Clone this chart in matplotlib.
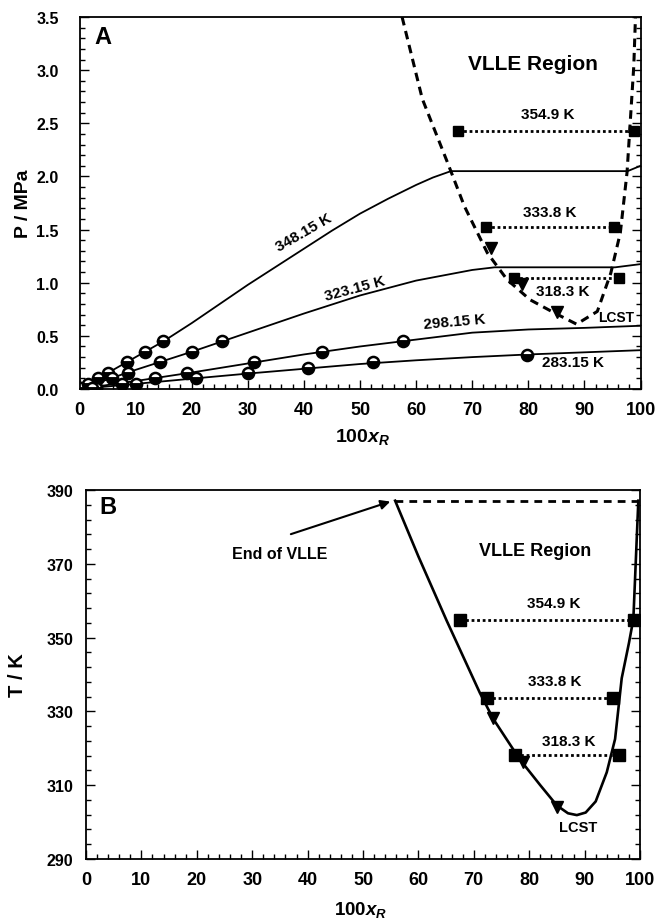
import matplotlib
matplotlib.use("Agg")
import matplotlib.pyplot as plt
from matplotlib.ticker import MultipleLocator

plt.rcParams['font.family'] = ['Liberation Sans', 'DejaVu Sans']
plt.rcParams['font.weight'] = 'bold'
plt.rcParams['mathtext.fontset'] = 'custom'
plt.rcParams['mathtext.it'] = 'Liberation Sans:italic:bold'
plt.rcParams['mathtext.rm'] = 'Liberation Sans:bold'
plt.rcParams['mathtext.bf'] = 'Liberation Sans:bold'

# ---------------- Panel A data ----------------
# model isotherms (P / MPa vs 100x_R)
x_348 = [0, 5, 10, 15, 20, 25, 30, 35, 40, 45, 50, 55, 60, 63, 66.2, 97.7, 100]
p_348 = [0, 0.15, 0.30, 0.45, 0.62, 0.80, 0.98, 1.15, 1.32, 1.49, 1.65, 1.79, 1.92, 1.99, 2.05, 2.05, 2.10]
x_323 = [0, 5, 10, 15, 20, 25, 30, 40, 50, 60, 70, 74, 95.5, 100]
p_323 = [0, 0.09, 0.18, 0.265, 0.35, 0.44, 0.53, 0.71, 0.88, 1.02, 1.12, 1.145, 1.145, 1.175]
x_298 = [0, 10, 20, 30, 40, 50, 60, 70, 80, 90, 100]
p_298 = [0, 0.075, 0.155, 0.24, 0.325, 0.40, 0.465, 0.53, 0.56, 0.575, 0.595]
x_283 = [0, 10, 20, 30, 40, 50, 60, 70, 80, 90, 100]
p_283 = [0, 0.048, 0.097, 0.145, 0.19, 0.235, 0.27, 0.30, 0.325, 0.345, 0.365]

# experimental points
xe_348 = [0.3, 1.5, 3.3, 5.1, 8.4, 11.7, 14.9]
pe_348 = [0.01, 0.05, 0.10, 0.15, 0.25, 0.35, 0.45]
xe_323 = [2.8, 5.8, 8.7, 14.3, 20.0, 25.4]
pe_323 = [0.02, 0.10, 0.15, 0.25, 0.35, 0.45]
xe_298 = [3.0, 7.5, 13.5, 19.2, 31.1, 43.3, 57.7]
pe_298 = [0.01, 0.05, 0.10, 0.15, 0.25, 0.35, 0.45]
xe_283 = [2.3, 10.1, 20.8, 30.0, 40.7, 52.3, 79.8]
pe_283 = [0.01, 0.05, 0.10, 0.15, 0.20, 0.25, 0.32]

# VLLE boundary (dashed) in P-x
x_vlle_A = [57.5, 61.1, 65.6, 68.6, 72.7, 76.2, 80.3, 84.5, 88.6, 92.3, 94.7, 96.4, 97.6, 98.8, 99.1]
p_vlle_A = [3.5, 2.73, 2.13, 1.72, 1.28, 1.03, 0.84, 0.72, 0.61, 0.73, 1.09, 1.47, 2.04, 3.04, 3.5]

# triangles on the boundary
x_tri = [73.4, 78.8, 85.1]
p_tri = [1.33, 0.99, 0.72]
T_tri = [328.1, 316.2, 304.2]

# LLE tie lines (squares)
tie_labels = ['354.9 K', '333.8 K', '318.3 K']
tie_x_left = [67.5, 72.4, 77.5]
tie_x_right = [98.9, 95.2, 96.2]
tie_P = [2.43, 1.52, 1.04]
tie_T = [354.8, 333.6, 318.2]

# ---------------- Panel B data ----------------
x_B = [55.8, 60.0, 65.1, 71.1, 73.5, 78.3, 82.0, 85.0, 87.0, 88.6, 90.2, 92.0, 94.0, 95.5, 96.7, 98.0, 98.8, 99.7]
T_B = [387.1, 372.0, 354.6, 335.0, 328.0, 317.0, 310.0, 304.5, 302.4, 301.9, 302.6, 305.6, 313.5, 322.5, 339.0, 348.5, 355.0, 387.1]
T_end = 387.1
x_end = [55.8, 99.8]

fig = plt.figure(figsize=(6.55, 9.2), dpi=100)
axA = fig.add_axes([0.1214, 0.5761, 0.8565, 0.4043])
axB = fig.add_axes([0.1313, 0.0652, 0.8458, 0.4011])

curve_kw = dict(color='black', lw=1.3)
mk_kw = dict(ls='none', marker='o', ms=8, fillstyle='top', markerfacecolor='white',
             markerfacecoloralt='black', markeredgecolor='black', markeredgewidth=1.8)

for xs, ps in [(x_348, p_348), (x_323, p_323), (x_298, p_298), (x_283, p_283)]:
    axA.plot(xs, ps, **curve_kw)
for xs, ps in [(xe_348, pe_348), (xe_323, pe_323), (xe_298, pe_298), (xe_283, pe_283)]:
    axA.plot(xs, ps, **mk_kw)

axA.plot(x_vlle_A, p_vlle_A, color='black', lw=2.2, ls=(0, (2.8, 1.9)))
axA.plot(x_tri, p_tri, ls='none', marker='v', ms=8, color='black')
for xl, xr, p in zip(tie_x_left, tie_x_right, tie_P):
    axA.plot([xl, xr], [p, p], color='black', lw=2, ls=(0, (1, 1)))
    axA.plot([xl, xr], [p, p], ls='none', marker='s', ms=7.5, color='black')

tfs = 11
axA.text(83.5, 2.52, tie_labels[0], ha='center', va='bottom', fontsize=tfs, fontweight='bold')
axA.text(83.8, 1.60, tie_labels[1], ha='center', va='bottom', fontsize=tfs, fontweight='bold')
axA.text(86.2, 0.925, tie_labels[2], ha='center', va='center', fontsize=tfs, fontweight='bold')
axA.text(95.7, 0.675, 'LCST', ha='center', va='center', fontsize=10, fontweight='bold')
axA.text(80.8, 3.06, 'VLLE Region', ha='center', va='center', fontsize=15, fontweight='bold')
axA.text(39.9, 1.48, '348.15 K', ha='center', va='center', rotation=30, fontsize=tfs, fontweight='bold')
axA.text(49.0, 0.95, '323.15 K', ha='center', va='center', rotation=15, fontsize=tfs, fontweight='bold')
axA.text(66.8, 0.64, '298.15 K', ha='center', va='center', rotation=5, fontsize=tfs, fontweight='bold')
axA.text(88.0, 0.25, '283.15 K', ha='center', va='center', fontsize=tfs, fontweight='bold')
axA.text(4.1, 3.32, 'A', ha='center', va='center', fontsize=17, fontweight='bold')

axA.set_xlim(0, 100)
axA.set_ylim(0, 3.5)
axA.xaxis.set_major_locator(MultipleLocator(10))
axA.xaxis.set_minor_locator(MultipleLocator(2))
axA.yaxis.set_major_locator(MultipleLocator(0.5))
axA.yaxis.set_minor_locator(MultipleLocator(0.1))
axA.yaxis.set_major_formatter(plt.FormatStrFormatter('%.1f'))
axA.set_ylabel('P / MPa', fontsize=14, fontweight='bold')
axA.set_xlabel(r'100$x_R$', fontsize=14, fontweight='bold')
axA.yaxis.set_label_coords(-0.085, 0.5)
axA.xaxis.set_label_coords(0.504, -0.100)

# ---------------- Panel B ----------------
axB.plot(x_B, T_B, color='black', lw=1.9)
axB.plot(x_end, [T_end, T_end], color='black', lw=2.0, ls=(0, (2.8, 2.2)))
axB.plot(x_tri, T_tri, ls='none', marker='v', ms=8, color='black')
for xl, xr, t in zip(tie_x_left, tie_x_right, tie_T):
    axB.plot([xl, xr], [t, t], color='black', lw=2, ls=(0, (1, 1)))
    axB.plot([xl, xr], [t, t], ls='none', marker='s', ms=8, color='black')

axB.text(84.4, 359.3, tie_labels[0], ha='center', va='center', fontsize=tfs, fontweight='bold')
axB.text(84.7, 338.3, tie_labels[1], ha='center', va='center', fontsize=tfs, fontweight='bold')
axB.text(87.1, 321.9, tie_labels[2], ha='center', va='center', fontsize=tfs, fontweight='bold')
axB.text(88.9, 298.6, 'LCST', ha='center', va='center', fontsize=10.5, fontweight='bold')
axB.text(81.0, 373.5, 'VLLE Region', ha='center', va='center', fontsize=13, fontweight='bold')
axB.text(35.0, 372.9, 'End of VLLE', ha='center', va='center', fontsize=11.5, fontweight='bold')
axB.annotate('', xy=(55.4, 387.1), xytext=(36.5, 377.8),
             arrowprops=dict(arrowstyle='-|>', color='black', lw=1.5, mutation_scale=14))
axB.text(4.0, 385.4, 'B', ha='center', va='center', fontsize=17, fontweight='bold')

axB.set_xlim(0, 100)
axB.set_ylim(290, 390)
axB.xaxis.set_major_locator(MultipleLocator(10))
axB.xaxis.set_minor_locator(MultipleLocator(2))
axB.yaxis.set_major_locator(MultipleLocator(20, offset=10))
axB.yaxis.set_minor_locator(MultipleLocator(4, offset=2))
axB.set_ylabel('T / K', fontsize=14.5, fontweight='bold')
axB.set_xlabel(r'100$x_R$', fontsize=13.5, fontweight='bold')
axB.yaxis.set_label_coords(-0.106, 0.5)
axB.xaxis.set_label_coords(0.496, -0.107)

for ax, ypad in [(axA, 15), (axB, 9)]:
    for s in ax.spines.values():
        s.set_linewidth(1.3)
    ax.tick_params(which='both', direction='in', top=False, right=True, width=1.0)
    ax.tick_params(which='major', length=6.5)
    ax.tick_params(which='minor', length=3.5)
    ax.tick_params(axis='x', which='major', pad=8.5, labelsize=13)
    ax.tick_params(axis='y', which='major', pad=ypad, labelsize=11.5)
    for lab in ax.get_xticklabels() + ax.get_yticklabels():
        lab.set_fontweight('bold')

fig.savefig('out.png', dpi=100)
